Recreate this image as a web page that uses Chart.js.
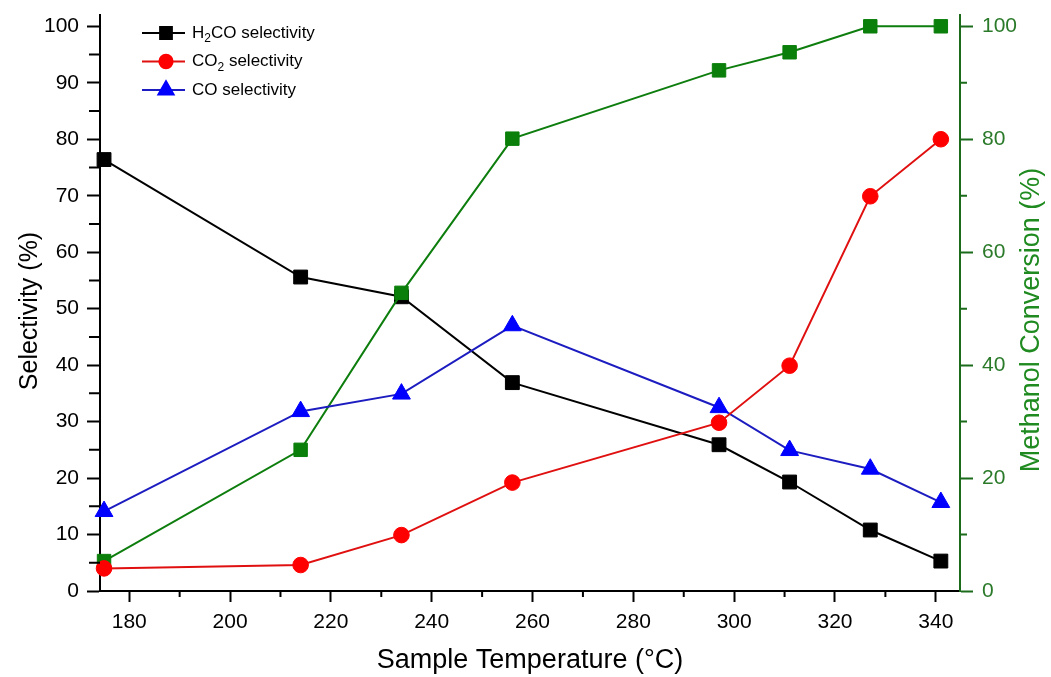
<!DOCTYPE html>
<html>
<head>
<meta charset="utf-8">
<script src="https://cdn.jsdelivr.net/npm/chart.js@4.4.0/dist/chart.umd.min.js"></script>
<style>
  body { margin: 0; background: #fff; }
</style>
</head>
<body>
<canvas id="myChart" width="1051" height="677"></canvas>
<script>
// data
const temps = [175, 214, 234, 256, 297, 311, 327, 341];
const h2coSel = [76.4, 55.6, 52.1, 36.9, 25.9, 19.3, 10.8, 5.3];
const co2Sel = [4.0, 4.6, 9.9, 19.2, 29.8, 39.9, 69.9, 80.0];
const coSel = [14.1, 31.8, 34.9, 47.0, 32.5, 24.9, 21.6, 15.7];
const conversion = [5.3, 25.0, 52.8, 80.1, 92.2, 95.4, 100, 100];

// ticks
const xTicks = [180, 200, 220, 240, 260, 280, 300, 320, 340];
const xMinor = [190, 210, 230, 250, 270, 290, 310, 330];
const yTicks = [0, 10, 20, 30, 40, 50, 60, 70, 80, 90, 100];
const yMinor = [5, 15, 25, 35, 45, 55, 65, 75, 85, 95];
const y1Ticks = [0, 20, 40, 60, 80, 100];
const y1Minor = [10, 30, 50, 70, 90];

const legendLabels = [
  ['H', '2', 'CO selectivity'],
  ['CO', '2', ' selectivity'],
  ['CO selectivity', '', '']
];

const FONT = "'Liberation Sans', Arial, sans-serif";
const GREEN = '#0d7d0d';
const AXIS_GREEN = '#1b6b1b';

const pts = ys => temps.map((t, i) => ({x: t, y: ys[i]}));

const fixedSize = size => s => {
  if (s.isHorizontal()) s.height = size; else s.width = size;
  s.paddingTop = s.paddingBottom = s.paddingLeft = s.paddingRight = 0;
};
const setTicks = list => s => { s.ticks = list.map(v => ({value: v})); };

// shorter minor tick marks
const minorTicks = {
  id: 'minorTicks',
  afterDraw(chart, args, opts) {
    const ctx = chart.ctx;
    for (const id in opts.scales) {
      const s = chart.scales[id], o = opts.scales[id];
      ctx.save();
      ctx.strokeStyle = o.color;
      ctx.lineWidth = 2;
      ctx.beginPath();
      o.values.forEach(v => {
        const p = s.getPixelForValue(v);
        if (s.isHorizontal()) { ctx.moveTo(p, s.top); ctx.lineTo(p, s.top + o.length); }
        else if (s.position === 'left') { ctx.moveTo(s.right, p); ctx.lineTo(s.right - o.length, p); }
        else { ctx.moveTo(s.left, p); ctx.lineTo(s.left + o.length, p); }
      });
      ctx.stroke();
      ctx.restore();
    }
  }
};

// both vertical titles read bottom to top
const sideTitles = {
  id: 'sideTitles',
  afterDraw(chart) {
    const ctx = chart.ctx, a = chart.chartArea;
    const mid = (a.top + a.bottom) / 2;
    const put = (text, x, y, size, color) => {
      ctx.save();
      ctx.translate(x, y);
      ctx.rotate(-Math.PI / 2);
      ctx.font = size + 'px ' + FONT;
      ctx.fillStyle = color;
      ctx.textAlign = 'center';
      ctx.textBaseline = 'middle';
      ctx.fillText(text, 0, 0);
      ctx.restore();
    };
    put('Selectivity (%)', chart.scales.y.left + 30, mid + 8, 25, '#000');
    put('Methanol Conversion (%)', chart.scales.y1.right - 19, mid + 17, 27, '#1f8a1f');
  }
};

// legend with line through marker, subscripts
const boxLegend = {
  id: 'boxLegend',
  afterDraw(chart) {
    const ctx = chart.ctx, a = chart.chartArea;
    [0, 1, 2].forEach((di, row) => {
      const ds = chart.data.datasets[di];
      const y = a.top + 18 + row * 28.5;
      const x0 = a.left + 42;
      ctx.save();
      ctx.strokeStyle = ds.borderColor;
      ctx.lineWidth = 2;
      ctx.beginPath();
      ctx.moveTo(x0, y); ctx.lineTo(x0 + 43, y);
      ctx.stroke();
      ctx.fillStyle = ds.pointBackgroundColor;
      ctx.strokeStyle = ds.pointBackgroundColor;
      Chart.helpers.drawPoint(ctx, {pointStyle: ds.pointStyle, radius: ds.pointRadius * 0.85, rotation: 0, borderWidth: 1}, x0 + 24, y);
      ctx.fillStyle = '#000';
      ctx.textBaseline = 'middle';
      let x = x0 + 50;
      const [a1, sub, a2] = legendLabels[row];
      ctx.font = '17px ' + FONT;
      ctx.fillText(a1, x, y); x += ctx.measureText(a1).width;
      if (sub) {
        ctx.font = '12px ' + FONT;
        ctx.fillText(sub, x, y + 6); x += ctx.measureText(sub).width;
      }
      ctx.font = '17px ' + FONT;
      if (a2) ctx.fillText(a2, x, y);
      ctx.restore();
    });
  }
};

new Chart(document.getElementById('myChart'), {
  type: 'line',
  data: {
    datasets: [
      {
        label: 'H2CO selectivity', data: pts(h2coSel), yAxisID: 'y', order: 4,
        borderColor: '#000', pointBackgroundColor: '#000', pointBorderColor: '#000',
        pointStyle: 'rect', pointRadius: 9.8
      },
      {
        label: 'CO2 selectivity', data: pts(co2Sel), yAxisID: 'y', order: 1,
        borderColor: '#e01010', pointBackgroundColor: '#ff0000', pointBorderColor: '#ff0000',
        pointStyle: 'circle', pointRadius: 7.8
      },
      {
        label: 'CO selectivity', data: pts(coSel), yAxisID: 'y', order: 2,
        borderColor: '#1c1cc0', pointBackgroundColor: '#0000ff', pointBorderColor: '#0000ff',
        pointStyle: 'triangle', pointRadius: 10.3
      },
      {
        label: 'Methanol conversion', data: pts(conversion), yAxisID: 'y1', order: 3,
        borderColor: GREEN, pointBackgroundColor: '#0a7f0a', pointBorderColor: '#0a7f0a',
        pointStyle: 'rect', pointRadius: 9.5
      }
    ]
  },
  options: {
    responsive: false,
    animation: false,
    layout: { padding: { top: 15, left: 0, right: 0, bottom: 0 } },
    elements: {
      line: { borderWidth: 2, tension: 0 },
      point: { borderWidth: 1 }
    },
    datasets: { line: { clip: false } },
    plugins: {
      legend: { display: false },
      tooltip: { enabled: false },
      minorTicks: {
        scales: {
          x: { values: xMinor, length: 6, color: '#000' },
          y: { values: yMinor, length: 11, color: '#000' },
          y1: { values: y1Minor, length: 7, color: AXIS_GREEN }
        }
      }
    },
    scales: {
      x: {
        type: 'linear', min: 174.2, max: 344.8,
        afterBuildTicks: setTicks(xTicks),
        afterFit: fixedSize(86),
        grid: { drawOnChartArea: false, tickLength: 11, tickWidth: 2, tickColor: '#000' },
        border: { color: '#000', width: 2 },
        ticks: { color: '#000', font: { family: FONT, size: 21 }, padding: 8, maxRotation: 0 },
        title: {
          display: true, text: 'Sample Temperature (°C)', color: '#000',
          font: { family: FONT, size: 27 }, padding: { top: 0, bottom: 0 }
        }
      },
      y: {
        position: 'left', min: 0, max: 102,
        afterBuildTicks: setTicks(yTicks),
        afterFit: fixedSize(100),
        grid: { drawOnChartArea: false, tickLength: 13, tickWidth: 2, tickColor: '#000' },
        border: { color: '#000', width: 2 },
        ticks: { color: '#000', font: { family: FONT, size: 21 }, padding: 8 }
      },
      y1: {
        position: 'right', min: 0, max: 102,
        afterBuildTicks: setTicks(y1Ticks),
        afterFit: fixedSize(91),
        grid: { drawOnChartArea: false, tickLength: 13, tickWidth: 2, tickColor: AXIS_GREEN },
        border: { color: AXIS_GREEN, width: 2 },
        ticks: { color: '#2a7a2a', font: { family: FONT, size: 21 }, padding: 9 }
      }
    }
  },
  plugins: [minorTicks, sideTitles, boxLegend]
});
</script>
</body>
</html>
